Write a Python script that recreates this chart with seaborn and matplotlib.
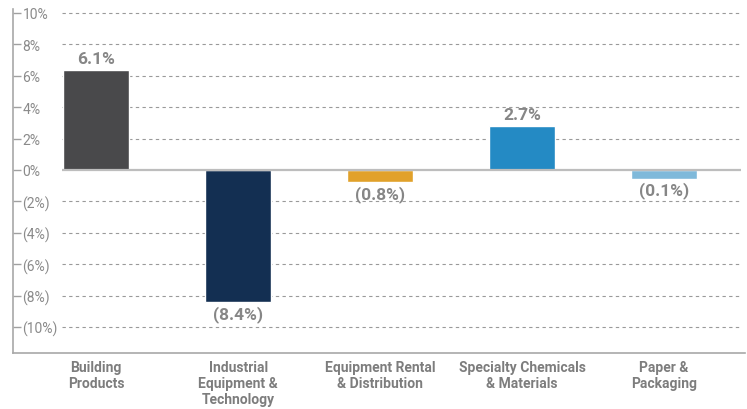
import matplotlib
matplotlib.use("Agg")
import matplotlib.pyplot as plt
import seaborn as sns
import pandas as pd

categories = ["Building\nProducts", "Industrial\nEquipment &\nTechnology",
              "Equipment Rental\n& Distribution", "Specialty Chemicals\n& Materials",
              "Paper &\nPackaging"]
values = [6.35, -8.4, -0.8, 2.8, -0.55]
value_labels = ["6.1%", "(8.4%)", "(0.8%)", "2.7%", "(0.1%)"]
colors = ["#49494b", "#132f52", "#e1a12a", "#248ac4", "#7fb9da"]
yticks = [10, 8, 6, 4, 2, 0, -2, -4, -6, -8, -10]
ytick_labels = ["10%", "8%", "6%", "4%", "2%", "0%", "(2%)", "(4%)", "(6%)", "(8%)", "(10%)"]

sns.set_theme(style="white")
plt.rcParams["font.family"] = ["Liberation Sans Narrow", "DejaVu Sans Condensed", "Roboto", "DejaVu Sans"]

fig = plt.figure(figsize=(7.47, 4.10), dpi=100)
ax = fig.add_axes([13/747, 56/410, (745-13)/747, (354-10)/410])

df = pd.DataFrame({"cat": categories, "val": values})
sns.barplot(data=df, x="cat", y="val", hue="cat", palette=colors, legend=False,
            width=0.46, ax=ax, saturation=1)

ax.set_ylim(-11.66, 10.25)
ax.set_xlim(-0.585, 4.57)

grid_color = "#9a9a9a"
for t in yticks:
    if t == 0:
        continue
    ax.hlines(t, -0.24, 4.54, colors=grid_color, linestyles=(0, (3, 3)), lw=0.8, zorder=0)
ax.hlines(0, -0.24, 4.54, colors="#bdbdbd", lw=1.6, zorder=3)

ax.set_yticks(yticks)
ax.set_yticklabels(ytick_labels)
ax.tick_params(axis="y", direction="in", length=5.8, width=1, color="#a0a0a0",
               pad=-6.8, labelsize=10, labelcolor="#8a8a8a", left=True)
for lab in ax.get_yticklabels():
    lab.set_horizontalalignment("left")

ax.tick_params(axis="x", length=0, pad=5, labelsize=10, labelcolor="#7d7d7d")
for lab in ax.get_xticklabels():
    lab.set_fontweight("bold")
    lab.set_linespacing(1.2)

ax.set_xlabel("")
ax.set_ylabel("")

for side in ["top", "right"]:
    ax.spines[side].set_visible(False)
for side in ["left", "bottom"]:
    ax.spines[side].set_color("#a8a8a8")
    ax.spines[side].set_linewidth(1.2)

for i, (v, lab) in enumerate(zip(values, value_labels)):
    if v >= 0:
        ax.annotate(lab, (i, v), xytext=(0, 3), textcoords="offset points",
                    ha="center", va="bottom", fontsize=12.5, fontweight="bold", color="#868686")
    else:
        ax.annotate(lab, (i, v), xytext=(0, -2), textcoords="offset points",
                    ha="center", va="top", fontsize=12.5, fontweight="bold", color="#868686")

fig.savefig("out.png", dpi=100)
